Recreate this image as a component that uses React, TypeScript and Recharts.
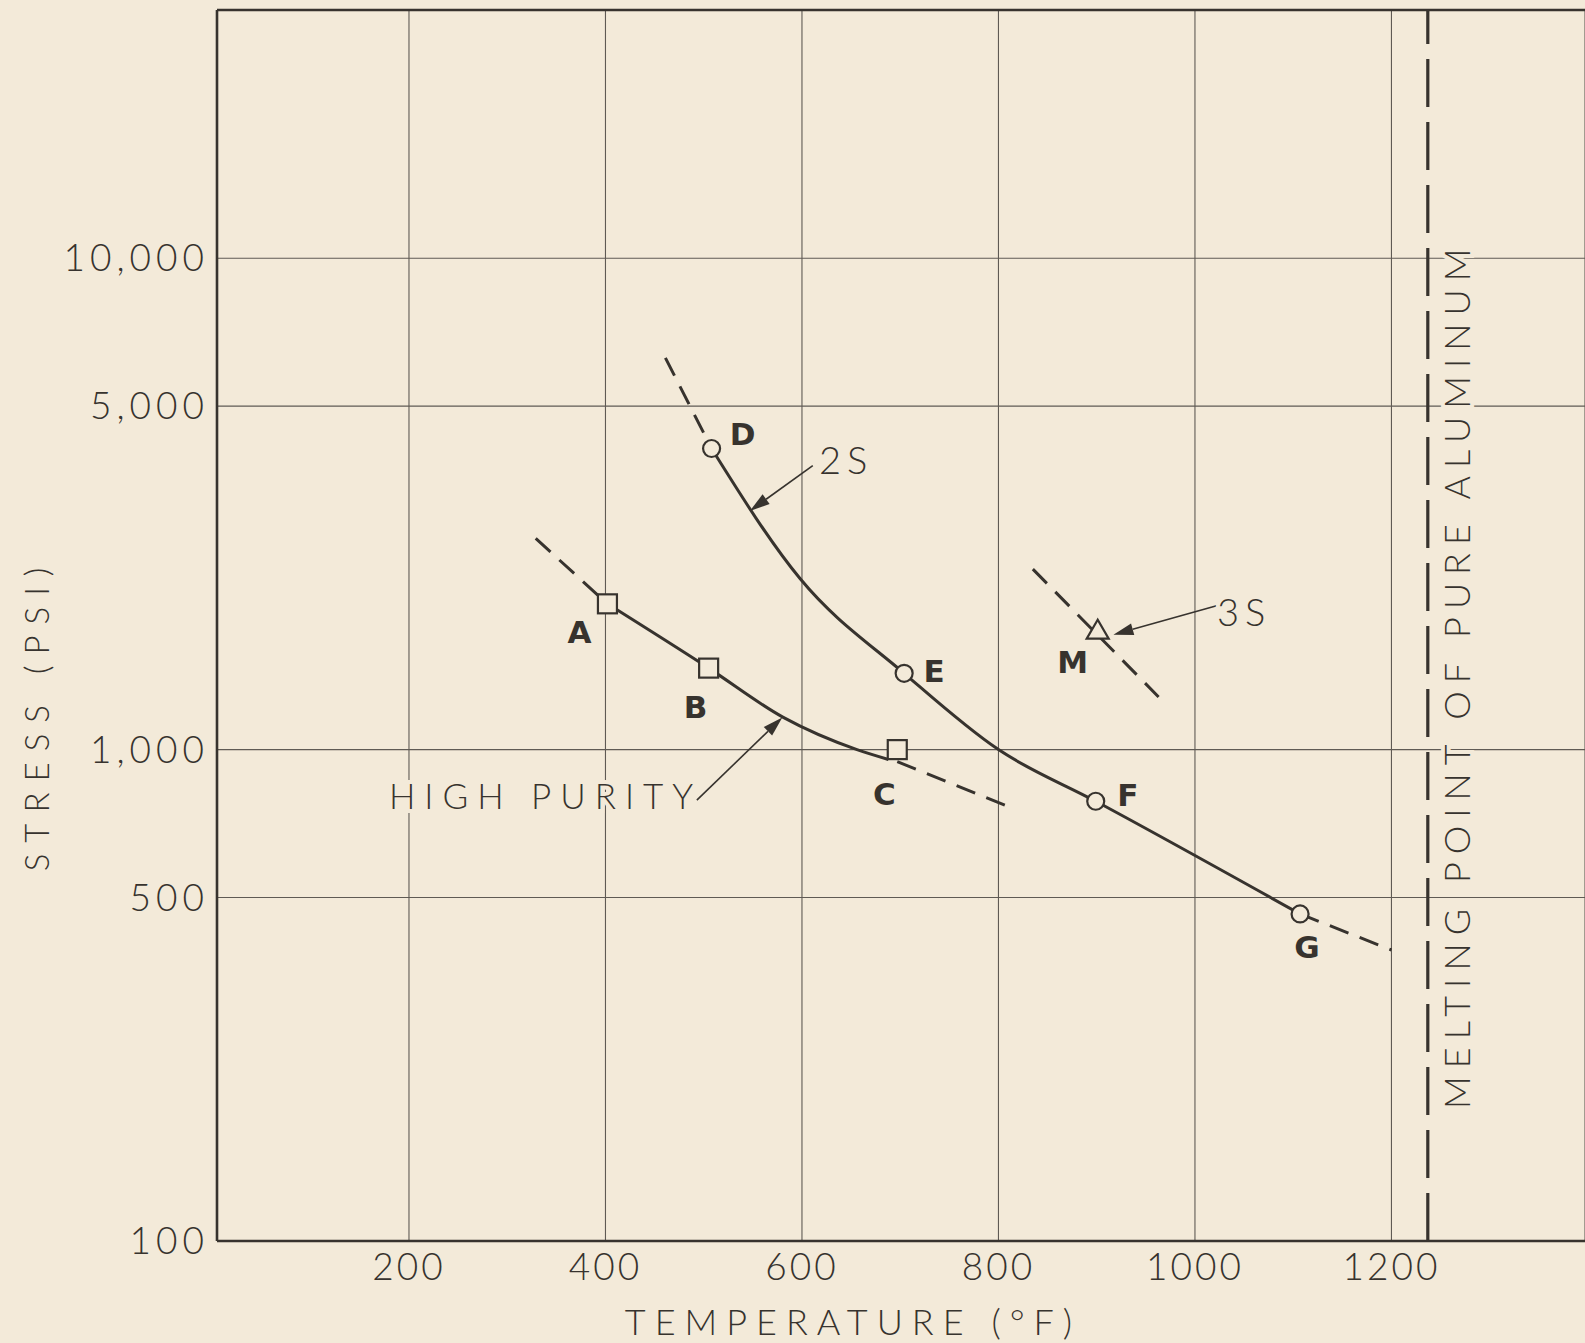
import React from 'react';
import {
  ComposedChart,
  Line,
  Scatter,
  XAxis,
  YAxis,
  CartesianGrid,
  ReferenceLine,
  ReferenceDot,
} from 'recharts';

// ---------- data ----------
const xTicks = [200, 400, 600, 800, 1000, 1200];
const yTicks = [100, 500, 1000, 5000, 10000];

// High purity aluminum (squares)
const highPurityPoints = [
  { name: 'A', temp: 402, stress: 1980 },
  { name: 'B', temp: 505, stress: 1465 },
  { name: 'C', temp: 697, stress: 1000 },
];
const highPurityCurve = [
  { temp: 402, stress: 1980 },
  { temp: 505, stress: 1465 },
  { temp: 581, stress: 1163 },
  { temp: 656, stress: 1000 },
  { temp: 688, stress: 955 },
];
const highPurityDashLow = [
  { temp: 329, stress: 2690 },
  { temp: 402, stress: 1980 },
];
const highPurityDashHigh = [
  { temp: 697, stress: 945 },
  { temp: 807, stress: 770 },
];

// 2S aluminum (circles)
const alloy2SPoints = [
  { name: 'D', temp: 508, stress: 4100 },
  { name: 'E', temp: 704, stress: 1430 },
  { name: 'F', temp: 899, stress: 785 },
  { name: 'G', temp: 1107, stress: 463 },
];
const alloy2SCurve = [
  { temp: 508, stress: 4100 },
  { temp: 598, stress: 2229 },
  { temp: 704, stress: 1430 },
  { temp: 800, stress: 1000 },
  { temp: 899, stress: 785 },
  { temp: 1107, stress: 463 },
];
const alloy2SDashLow = [
  { temp: 461, stress: 6270 },
  { temp: 508, stress: 4100 },
];
const alloy2SDashHigh = [
  { temp: 1107, stress: 463 },
  { temp: 1200, stress: 391 },
];

// 3S aluminum (triangle)
const alloy3SPoints = [{ name: 'M', temp: 901, stress: 1750 }];
const alloy3SDash = [
  { temp: 835, stress: 2330 },
  { temp: 963, stress: 1280 },
];

const meltingPointTemp = 1237;

// annotation anchors (data coordinates)
const label2S = { temp: 645, stress: 3909, text: '2S' };
const arrow2S = [
  { temp: 611, stress: 3785 },
  { temp: 547, stress: 3060 },
];
const label3S = { temp: 1050, stress: 1918, text: '3S' };
const arrow3S = [
  { temp: 1022, stress: 1963 },
  { temp: 917, stress: 1713 },
];
const labelHighPurity = { temp: 339, stress: 807, text: 'HIGH PURITY' };
const arrowHighPurity = [
  { temp: 493, stress: 789 },
  { temp: 580, stress: 1163 },
];
const labelMelting = { temp: 1266, stress: 1420, text: 'MELTING POINT OF PURE ALUMINUM' };

// ---------- styles ----------
const BG = '#f3ead9';
const INK = '#37332e';
const GRID = '#5f5a54';
const FONT = "Lato, 'Open Sans', 'DejaVu Sans', sans-serif";
const BOLD_FONT = "'DejaVu Sans', 'Liberation Sans', sans-serif";

const labelOffsets: Record<string, [number, number]> = {
  A: [-28, 28],
  B: [-13, 39],
  C: [-13, 44],
  D: [31, -14],
  E: [30, -2],
  F: [32, -6],
  G: [7, 33],
  M: [-25, 32],
};

const pointLabel = (name: string, cx: number, cy: number) => {
  const off = labelOffsets[name] || [0, 0];
  return (
    <text
      x={cx + off[0]}
      y={cy + off[1]}
      textAnchor="middle"
      dominantBaseline="central"
      fontFamily={BOLD_FONT}
      fontWeight={700}
      fontSize={31}
      fill={INK}
    >
      {name}
    </text>
  );
};

const SquareShape = (props: any) => {
  const { cx, cy, payload } = props;
  const s = 19;
  return (
    <g>
      <rect x={cx - s / 2} y={cy - s / 2} width={s} height={s} fill={BG} stroke={INK} strokeWidth={2.2} />
      {pointLabel(payload.name, cx, cy)}
    </g>
  );
};

const CircleShape = (props: any) => {
  const { cx, cy, payload } = props;
  return (
    <g>
      <circle cx={cx} cy={cy} r={8.5} fill={BG} stroke={INK} strokeWidth={2.2} />
      {pointLabel(payload.name, cx, cy)}
    </g>
  );
};

const TriangleShape = (props: any) => {
  const { cx, cy, payload } = props;
  const s = 22;
  const h = 19;
  const pts = `${cx},${cy - h / 2 - 1} ${cx - s / 2},${cy + h / 2 - 1} ${cx + s / 2},${cy + h / 2 - 1}`;
  return (
    <g>
      <polygon points={pts} fill={BG} stroke={INK} strokeWidth={2.2} />
      {pointLabel(payload.name, cx, cy)}
    </g>
  );
};

const ArrowShape = (props: any) => {
  const { x1, y1, x2, y2 } = props;
  const dx = x2 - x1;
  const dy = y2 - y1;
  const len = Math.sqrt(dx * dx + dy * dy) || 1;
  const ux = dx / len;
  const uy = dy / len;
  const headL = 20;
  const headW = 6;
  const bx = x2 - ux * headL;
  const by = y2 - uy * headL;
  const p1 = `${x2},${y2} ${bx - uy * headW},${by + ux * headW} ${bx + uy * headW},${by - ux * headW}`;
  return (
    <g>
      <line x1={x1} y1={y1} x2={bx} y2={by} stroke={INK} strokeWidth={1.6} />
      <polygon points={p1} fill={INK} />
    </g>
  );
};

const annotationText = (text: string, size: number, spacing: number, rotate = false) => (p: any) => {
  const { cx, cy } = p;
  return (
    <text
      x={cx}
      y={cy}
      textAnchor="middle"
      dominantBaseline="central"
      fontFamily={FONT}
      fontWeight={300}
      fontSize={size}
      letterSpacing={spacing}
      fill={INK}
      stroke={BG}
      strokeWidth={8}
      paintOrder="stroke"
      transform={rotate ? `rotate(-90 ${cx} ${cy})` : undefined}
    >
      {text}
    </text>
  );
};

const formatStress = (v: number) => v.toLocaleString('en-US');

export default function App() {
  return (
    <div
      style={{
        position: 'absolute',
        left: 0,
        top: 0,
        width: 1585,
        height: 1343,
        background: BG,
        overflow: 'hidden',
      }}
    >
      <ComposedChart width={1585} height={1343} margin={{ top: 10, right: 0, bottom: 0, left: 0 }}>
        <CartesianGrid stroke={GRID} strokeWidth={1.1} />
        <XAxis
          type="number"
          dataKey="temp"
          domain={[4.6, 1397]}
          ticks={xTicks}
          interval={0}
          allowDataOverflow
          height={102}
          tickLine={false}
          tickSize={0}
          tickMargin={13}
          axisLine={{ stroke: INK, strokeWidth: 2.6 }}
          tick={{ fill: INK, fontSize: 37, fontFamily: FONT, fontWeight: 300, letterSpacing: 3 }}
          label={{
            content: (p: any) => {
              const vb = p.viewBox || { x: 217, y: 1241 };
              return (
                <text
                  x={vb.x + 636}
                  y={vb.y + 80}
                  textAnchor="middle"
                  dominantBaseline="central"
                  fontFamily={FONT}
                  fontWeight={300}
                  fontSize={36}
                  letterSpacing={9}
                  fill={INK}
                >
                  TEMPERATURE (°F)
                </text>
              );
            },
          }}
        />
        <YAxis
          type="number"
          dataKey="stress"
          scale="log"
          domain={[100, 32000]}
          ticks={yTicks}
          interval={0}
          allowDataOverflow
          width={217}
          tickLine={false}
          tickSize={0}
          tickMargin={8}
          tickFormatter={formatStress}
          axisLine={{ stroke: INK, strokeWidth: 2.6 }}
          tick={{ fill: INK, fontSize: 37, fontFamily: FONT, fontWeight: 300, letterSpacing: 5 }}
          label={{
            content: (p: any) => {
              const vb = p.viewBox || { x: 0, y: 10 };
              const x = vb.x + 36;
              const y = vb.y + 704;
              return (
                <text
                  x={x}
                  y={y}
                  textAnchor="middle"
                  dominantBaseline="central"
                  fontFamily={FONT}
                  fontWeight={300}
                  fontSize={33}
                  letterSpacing={11}
                  fill={INK}
                  transform={`rotate(-90 ${x} ${y})`}
                >
                  STRESS (PSI)
                </text>
              );
            },
          }}
        />

        <ReferenceLine y={32000} stroke={INK} strokeWidth={2.6} />

        <ReferenceLine
          x={meltingPointTemp}
          stroke={INK}
          strokeWidth={3.2}
          strokeDasharray="48 15"
        />

        <Line data={highPurityDashLow} dataKey="stress" type="linear" stroke={INK} strokeWidth={3} strokeDasharray="20 12" dot={false} isAnimationActive={false} />
        <Line data={highPurityCurve} dataKey="stress" type="monotone" stroke={INK} strokeWidth={3} dot={false} isAnimationActive={false} />
        <Line data={highPurityDashHigh} dataKey="stress" type="linear" stroke={INK} strokeWidth={3} strokeDasharray="20 12" dot={false} isAnimationActive={false} />

        <Line data={alloy2SDashLow} dataKey="stress" type="linear" stroke={INK} strokeWidth={3} strokeDasharray="20 12" dot={false} isAnimationActive={false} />
        <Line data={alloy2SCurve} dataKey="stress" type="monotone" stroke={INK} strokeWidth={3} dot={false} isAnimationActive={false} />
        <Line data={alloy2SDashHigh} dataKey="stress" type="linear" stroke={INK} strokeWidth={3} strokeDasharray="20 12" dot={false} isAnimationActive={false} />

        <Line data={alloy3SDash} dataKey="stress" type="linear" stroke={INK} strokeWidth={3} strokeDasharray="20 12" dot={false} isAnimationActive={false} />

        <ReferenceLine
          segment={[{ x: arrow2S[0].temp, y: arrow2S[0].stress }, { x: arrow2S[1].temp, y: arrow2S[1].stress }]}
          shape={ArrowShape}
        />
        <ReferenceLine
          segment={[{ x: arrow3S[0].temp, y: arrow3S[0].stress }, { x: arrow3S[1].temp, y: arrow3S[1].stress }]}
          shape={ArrowShape}
        />
        <ReferenceLine
          segment={[
            { x: arrowHighPurity[0].temp, y: arrowHighPurity[0].stress },
            { x: arrowHighPurity[1].temp, y: arrowHighPurity[1].stress },
          ]}
          shape={ArrowShape}
        />

        <ReferenceDot x={label2S.temp} y={label2S.stress} r={0} shape={annotationText(label2S.text, 38, 6)} />
        <ReferenceDot x={label3S.temp} y={label3S.stress} r={0} shape={annotationText(label3S.text, 38, 6)} />
        <ReferenceDot
          x={labelHighPurity.temp}
          y={labelHighPurity.stress}
          r={0}
          shape={annotationText(labelHighPurity.text, 35, 9)}
        />
        <ReferenceDot
          x={labelMelting.temp}
          y={labelMelting.stress}
          r={0}
          shape={annotationText(labelMelting.text, 36, 8, true)}
        />

        <Scatter data={highPurityPoints} dataKey="stress" shape={SquareShape} isAnimationActive={false} />
        <Scatter data={alloy2SPoints} dataKey="stress" shape={CircleShape} isAnimationActive={false} />
        <Scatter data={alloy3SPoints} dataKey="stress" shape={TriangleShape} isAnimationActive={false} />
      </ComposedChart>
    </div>
  );
}
